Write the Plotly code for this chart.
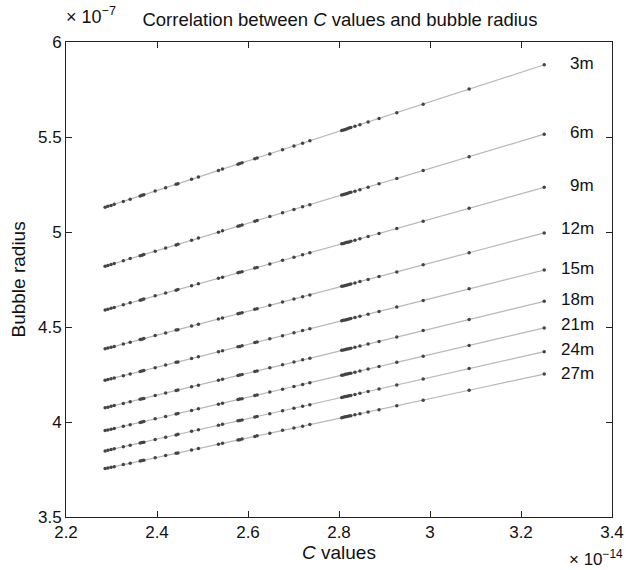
import plotly.graph_objects as go

# C values (x 1e-14)
c_values = [2.286, 2.292, 2.299, 2.306, 2.326, 2.341, 2.363, 2.367, 2.371, 2.396,
            2.419, 2.442, 2.446, 2.476, 2.491, 2.535, 2.544, 2.578, 2.582, 2.587,
            2.615, 2.620, 2.648, 2.676, 2.701, 2.720, 2.736, 2.806, 2.810, 2.814,
            2.818, 2.822, 2.826, 2.835, 2.846, 2.864, 2.888, 2.927, 2.985, 3.086, 3.251]

# Bubble radius (x 1e-7) per depth
r_3m = [5.130, 5.135, 5.140, 5.146, 5.161, 5.173, 5.190, 5.193, 5.196, 5.216,
        5.233, 5.251, 5.254, 5.278, 5.289, 5.324, 5.331, 5.357, 5.360, 5.364,
        5.386, 5.390, 5.411, 5.433, 5.453, 5.467, 5.480, 5.534, 5.537, 5.540,
        5.544, 5.547, 5.550, 5.557, 5.565, 5.579, 5.598, 5.628, 5.673, 5.752, 5.880]
r_6m = [4.820, 4.824, 4.829, 4.834, 4.849, 4.860, 4.875, 4.878, 4.881, 4.899,
        4.916, 4.932, 4.935, 4.957, 4.968, 4.999, 5.006, 5.030, 5.033, 5.037,
        5.057, 5.061, 5.081, 5.101, 5.119, 5.133, 5.144, 5.195, 5.197, 5.200,
        5.203, 5.206, 5.209, 5.215, 5.223, 5.236, 5.254, 5.282, 5.324, 5.396, 5.515]
r_9m = [4.590, 4.594, 4.599, 4.603, 4.617, 4.627, 4.641, 4.644, 4.647, 4.664,
        4.679, 4.694, 4.697, 4.717, 4.727, 4.756, 4.762, 4.785, 4.788, 4.791,
        4.810, 4.813, 4.832, 4.851, 4.867, 4.880, 4.891, 4.938, 4.940, 4.943,
        4.946, 4.948, 4.951, 4.957, 4.964, 4.976, 4.992, 5.018, 5.057, 5.125, 5.235]
r_12m = [4.385, 4.389, 4.393, 4.398, 4.410, 4.420, 4.434, 4.436, 4.439, 4.455,
         4.469, 4.484, 4.486, 4.505, 4.515, 4.542, 4.548, 4.570, 4.572, 4.575,
         4.593, 4.596, 4.614, 4.632, 4.647, 4.659, 4.669, 4.714, 4.716, 4.719,
         4.721, 4.724, 4.726, 4.732, 4.739, 4.750, 4.766, 4.790, 4.827, 4.891, 4.995]
r_15m = [4.220, 4.224, 4.228, 4.232, 4.244, 4.253, 4.266, 4.269, 4.271, 4.286,
         4.300, 4.314, 4.316, 4.334, 4.343, 4.370, 4.375, 4.396, 4.398, 4.401,
         4.418, 4.421, 4.438, 4.454, 4.470, 4.481, 4.491, 4.533, 4.535, 4.537,
         4.540, 4.542, 4.545, 4.550, 4.557, 4.567, 4.582, 4.605, 4.640, 4.701, 4.800]
r_18m = [4.075, 4.078, 4.083, 4.087, 4.098, 4.107, 4.120, 4.122, 4.124, 4.139,
         4.152, 4.166, 4.168, 4.185, 4.194, 4.220, 4.225, 4.245, 4.247, 4.250,
         4.266, 4.269, 4.285, 4.301, 4.316, 4.327, 4.336, 4.377, 4.379, 4.381,
         4.384, 4.386, 4.388, 4.394, 4.400, 4.410, 4.424, 4.447, 4.481, 4.539, 4.635]
r_21m = [3.955, 3.958, 3.962, 3.966, 3.977, 3.986, 3.998, 4.000, 4.003, 4.017,
         4.029, 4.042, 4.045, 4.061, 4.070, 4.094, 4.099, 4.118, 4.121, 4.123,
         4.139, 4.142, 4.158, 4.173, 4.187, 4.198, 4.207, 4.246, 4.248, 4.251,
         4.253, 4.255, 4.257, 4.262, 4.268, 4.279, 4.292, 4.314, 4.346, 4.403, 4.495]
r_24m = [3.848, 3.851, 3.855, 3.859, 3.870, 3.878, 3.890, 3.892, 3.894, 3.908,
         3.920, 3.932, 3.935, 3.951, 3.959, 3.983, 3.988, 4.006, 4.008, 4.011,
         4.026, 4.029, 4.044, 4.059, 4.073, 4.083, 4.091, 4.129, 4.131, 4.134,
         4.136, 4.138, 4.140, 4.145, 4.151, 4.161, 4.174, 4.195, 4.226, 4.281, 4.370]
r_27m = [3.755, 3.758, 3.762, 3.765, 3.776, 3.783, 3.795, 3.797, 3.799, 3.812,
         3.824, 3.835, 3.837, 3.853, 3.861, 3.883, 3.888, 3.905, 3.907, 3.910,
         3.924, 3.927, 3.941, 3.956, 3.969, 3.978, 3.987, 4.023, 4.025, 4.027,
         4.029, 4.031, 4.033, 4.038, 4.043, 4.053, 4.065, 4.085, 4.115, 4.167, 4.252]

depth_labels = ["3m", "6m", "9m", "12m", "15m", "18m", "21m", "24m", "27m"]
series = [r_3m, r_6m, r_9m, r_12m, r_15m, r_18m, r_21m, r_24m, r_27m]

x_tickvals = [2.2, 2.4, 2.6, 2.8, 3.0, 3.2, 3.4]
x_ticktext = ["2.2", "2.4", "2.6", "2.8", "3", "3.2", "3.4"]
y_tickvals = [3.5, 4.0, 4.5, 5.0, 5.5, 6.0]
y_ticktext = ["3.5", "4", "4.5", "5", "5.5", "6"]

FONT = "Liberation Sans, Arial, Helvetica, sans-serif"
INK = "#111111"

fig = go.Figure()
for name, ys in zip(depth_labels, series):
    fig.add_trace(go.Scatter(
        x=c_values, y=ys, mode="lines+markers", name=name,
        line=dict(color="#b8b8b8", width=1.2),
        marker=dict(color="#444444", size=3.5),
        showlegend=False,
    ))

label_yshift = {"3m": 1, "6m": 2, "9m": 2, "12m": 4, "15m": 2,
                "18m": 2, "21m": 3, "24m": 2, "27m": 1}
for name, ys in zip(depth_labels, series):
    fig.add_annotation(
        x=3.365, y=ys[-1], xref="x", yref="y", text=name, showarrow=False,
        xanchor="right", yanchor="middle", yshift=label_yshift[name],
        font=dict(family=FONT, size=17, color=INK),
    )

# exponent multipliers
fig.add_annotation(x=0, y=1, xref="paper", yref="paper", text="× 10<sup>−7</sup>",
                   showarrow=False, xanchor="left", yanchor="middle", xshift=-2, yshift=27,
                   font=dict(family=FONT, size=18, color=INK))
fig.add_annotation(x=1, y=0, xref="paper", yref="paper", text="× 10<sup>−14</sup>",
                   showarrow=False, xanchor="right", yanchor="middle", xshift=13, yshift=-41,
                   font=dict(family=FONT, size=17, color=INK))

# axis titles
fig.add_annotation(x=0.5, y=0, xref="paper", yref="paper", text="<i>C</i> values",
                   showarrow=False, xanchor="center", yanchor="middle", yshift=-35,
                   font=dict(family=FONT, size=19, color=INK))
fig.add_annotation(x=0, y=0.5, xref="paper", yref="paper", text="Bubble radius",
                   showarrow=False, xanchor="center", yanchor="middle", xshift=-48,
                   textangle=-90, font=dict(family=FONT, size=19, color=INK))

axis_common = dict(
    showline=True, linecolor="#222222", linewidth=1, mirror="allticks",
    ticks="inside", ticklen=6, tickcolor="#222222", showgrid=False, zeroline=False,
    automargin=False,
    tickfont=dict(family=FONT, size=17, color=INK),
)

fig.update_layout(
    width=626, height=570,
    margin=dict(l=66, r=14, t=42, b=53),
    paper_bgcolor="white", plot_bgcolor="white",
    title=dict(text="Correlation between <i>C</i> values and bubble radius",
               x=0.543, xanchor="center", y=0.965, yanchor="middle",
               font=dict(family=FONT, size=18.5, color=INK)),
    xaxis=dict(range=[2.2, 3.4], tickvals=x_tickvals, ticktext=x_ticktext, **axis_common),
    yaxis=dict(range=[3.5, 6.0], tickvals=y_tickvals, ticktext=y_ticktext, **axis_common),
)

# remove the default 8px page margin so the figure fills the window exactly
fig.write_html("out.html",
               config={"displayModeBar": False},
               post_script="document.body.style.margin='0';document.body.style.overflow='hidden';")
